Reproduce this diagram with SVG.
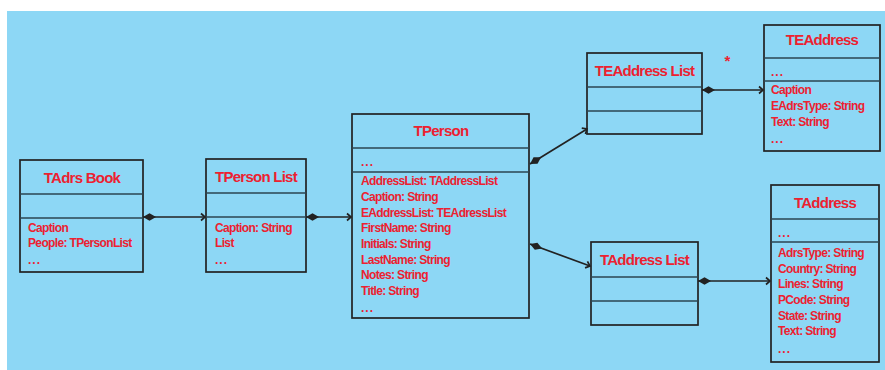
<svg xmlns="http://www.w3.org/2000/svg" width="885" height="370" viewBox="0 0 885 370">
<defs>
<style>
.box{fill:none;stroke:#222;stroke-width:1.7}
.div{stroke:#2b4550;stroke-width:1.3}
.t{font-family:"Liberation Sans",Arial,sans-serif;font-weight:bold;fill:#ec2130;font-size:15px;letter-spacing:-0.75px;text-anchor:middle}
.a{font-family:"Liberation Sans",Arial,sans-serif;font-weight:bold;fill:#ec2130;font-size:12px;letter-spacing:-0.65px}
.d{letter-spacing:1px}
.c{stroke:#222;stroke-width:1.7;fill:none;marker-start:url(#dia);marker-end:url(#arr)}
</style>
<marker id="dia" markerUnits="userSpaceOnUse" markerWidth="14" markerHeight="10" refX="0" refY="5" orient="auto" viewBox="0 0 14 10">
<path d="M0 5 L6.5 1.2 L13 5 L6.5 8.8 Z" fill="#222"/>
</marker>
<marker id="arr" markerUnits="userSpaceOnUse" markerWidth="10" markerHeight="10" refX="7" refY="5" orient="auto" viewBox="0 0 10 10">
<path d="M3 1.5 L7 5 L3 8.5" fill="none" stroke="#222" stroke-width="1.7"/>
</marker>
</defs>
<rect x="7" y="11" width="878" height="359" fill="#8dd7f5"/>
<g id="connectors">
<line class="c" x1="143" y1="217" x2="205" y2="217"/>
<line class="c" x1="306" y1="217" x2="351" y2="217"/>
<line class="c" x1="530" y1="164" x2="587" y2="129"/>
<line class="c" x1="530" y1="244" x2="590" y2="266"/>
<line class="c" x1="702" y1="90" x2="763" y2="90"/>
<line class="c" x1="698" y1="281" x2="770" y2="281"/>
<text x="727" y="66" class="a" style="font-size:15px" text-anchor="middle">*</text>
</g>
<g id="TAdrsBook">
<rect class="box" x="20" y="160" width="123" height="112"/>
<line class="div" x1="20" y1="194" x2="143" y2="194"/>
<line class="div" x1="20" y1="218" x2="143" y2="218"/>
<text class="t" x="82" y="183">TAdrs Book</text>
<text class="a" x="28" y="232">Caption</text>
<text class="a" x="28" y="247">People: TPersonList</text>
<text class="a d" x="28" y="264">...</text>
</g>
<g id="TPersonList">
<rect class="box" x="206" y="159" width="100" height="113"/>
<line class="div" x1="206" y1="193" x2="306" y2="193"/>
<line class="div" x1="206" y1="217" x2="306" y2="217"/>
<text class="t" x="256" y="182">TPerson List</text>
<text class="a" x="215" y="232">Caption: String</text>
<text class="a" x="215" y="247">List</text>
<text class="a d" x="215" y="264">...</text>
</g>
<g id="TPerson">
<rect class="box" x="352" y="114" width="177" height="204"/>
<line class="div" x1="352" y1="148" x2="529" y2="148"/>
<line class="div" x1="352" y1="172" x2="529" y2="172"/>
<text class="t" x="441" y="136">TPerson</text>
<text class="a d" x="361" y="166">...</text>
<text class="a" x="361" y="185">AddressList: TAddressList</text>
<text class="a" x="361" y="201">Caption: String</text>
<text class="a" x="361" y="217">EAddressList: TEAdressList</text>
<text class="a" x="361" y="232">FirstName: String</text>
<text class="a" x="361" y="248">Initials: String</text>
<text class="a" x="361" y="264">LastName: String</text>
<text class="a" x="361" y="279">Notes: String</text>
<text class="a" x="361" y="295">Title: String</text>
<text class="a d" x="361" y="312">...</text>
</g>
<g id="TEAddressList">
<rect class="box" x="587" y="53" width="115" height="81"/>
<line class="div" x1="587" y1="87" x2="702" y2="87"/>
<line class="div" x1="587" y1="111" x2="702" y2="111"/>
<text class="t" x="644.5" y="76">TEAddress List</text>
</g>
<g id="TEAddress">
<rect class="box" x="764" y="25" width="116" height="126"/>
<line class="div" x1="764" y1="58" x2="880" y2="58"/>
<line class="div" x1="764" y1="81" x2="880" y2="81"/>
<text class="t" x="822" y="45">TEAddress</text>
<text class="a d" x="771" y="76">...</text>
<text class="a" x="771" y="94">Caption</text>
<text class="a" x="771" y="110">EAdrsType: String</text>
<text class="a" x="771" y="126">Text: String</text>
<text class="a d" x="771" y="143">...</text>
</g>
<g id="TAddressList">
<rect class="box" x="591" y="242" width="107" height="83"/>
<line class="div" x1="591" y1="277" x2="698" y2="277"/>
<line class="div" x1="591" y1="301" x2="698" y2="301"/>
<text class="t" x="644.5" y="265">TAddress List</text>
</g>
<g id="TAddress">
<rect class="box" x="771" y="185" width="108" height="177"/>
<line class="div" x1="771" y1="219" x2="879" y2="219"/>
<line class="div" x1="771" y1="242" x2="879" y2="242"/>
<text class="t" x="825" y="208">TAddress</text>
<text class="a d" x="778" y="237">...</text>
<text class="a" x="778" y="257">AdrsType: String</text>
<text class="a" x="778" y="273">Country: String</text>
<text class="a" x="778" y="288">Lines: String</text>
<text class="a" x="778" y="304">PCode: String</text>
<text class="a" x="778" y="320">State: String</text>
<text class="a" x="778" y="335">Text: String</text>
<text class="a d" x="778" y="353">...</text>
</g>
</svg>
